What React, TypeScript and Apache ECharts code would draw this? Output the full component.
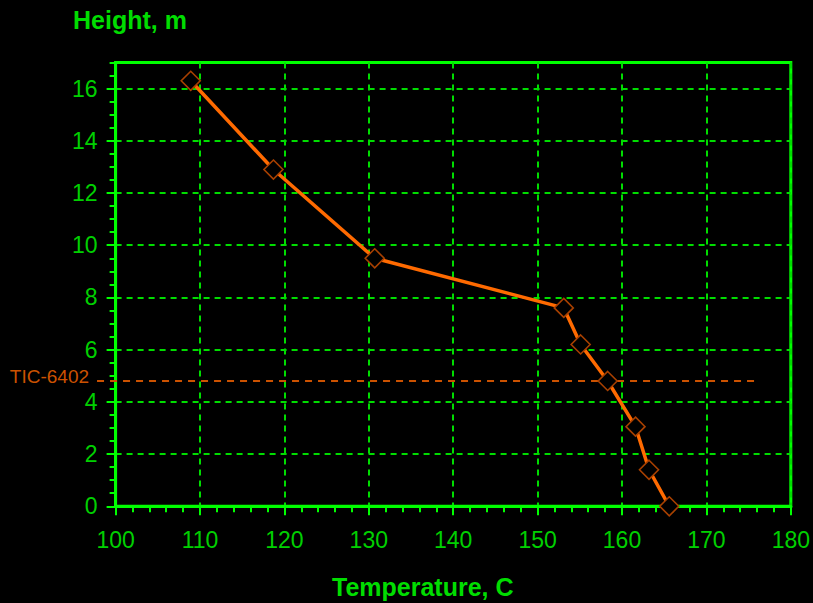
import React, { useEffect, useRef } from "react";
import * as echarts from "echarts";

const temperatures = [108.9, 118.7, 130.7, 153.1, 155.1, 158.3, 161.6, 163.2, 165.6];
const heights = [16.3, 12.9, 9.5, 7.6, 6.2, 4.8, 3.05, 1.4, 0];
const ticLabel = "TIC-6402";
const ticHeight = 4.8;
const ticRange = [97.8, 176];
const yMajorTicks = [0, 2, 4, 6, 8, 10, 12, 14, 16];

const GREEN = "#00ff00";
const GRID_GREEN = "#00dd00";
const LABEL_GREEN = "#00d000";
const TIC_COLOR = "#cc5200";
const FONT = "Liberation Sans, Arial, sans-serif";

export default function App() {
  const ref = useRef<HTMLDivElement>(null);
  useEffect(() => {
    document.body.style.margin = "0";
    document.body.style.background = "#000";
    const chart = echarts.init(ref.current!, null, { renderer: "svg" });
    const titles = [
      {
        type: "text",
        left: 73,
        top: 7,
        style: { text: "Height, m", fill: "#00dd00", font: `bold 25px ${FONT}` },
      },
      {
        type: "text",
        left: 332,
        top: 574,
        style: { text: "Temperature, C", fill: "#00dd00", font: `bold 25px ${FONT}` },
      },
    ];
    const option: any = {
      animation: false,
      backgroundColor: "#000",
      grid: {
        left: 115.6,
        top: 62.5,
        width: 675.5,
        height: 443.8,
        show: true,
        borderColor: GREEN,
        borderWidth: 3,
        backgroundColor: "#000",
      },
      xAxis: {
        type: "value",
        min: 100,
        max: 180,
        interval: 10,
        axisLine: { show: true, lineStyle: { color: GREEN, width: 3 } },
        axisTick: { show: true, inside: false, length: 9, lineStyle: { color: GREEN, width: 2 } },
        minorTick: { show: true, splitNumber: 5, length: 6, lineStyle: { color: GREEN, width: 2 } },
        splitLine: { show: true, lineStyle: { color: GRID_GREEN, width: 2, type: [6, 5] } },
        axisLabel: { color: LABEL_GREEN, fontSize: 23, fontFamily: FONT, margin: 22 },
      },
      yAxis: [
        {
          type: "value",
          min: 0,
          max: 17,
          interval: 2,
          axisLine: { show: true, lineStyle: { color: GREEN, width: 3 } },
          axisTick: { show: true, inside: false, length: 9, customValues: yMajorTicks, lineStyle: { color: GREEN, width: 2 } },
          splitLine: { show: true, lineStyle: { color: GRID_GREEN, width: 2, type: [6, 5] } },
          axisLabel: {
            color: LABEL_GREEN,
            fontSize: 23,
            fontFamily: FONT,
            margin: 18,
            customValues: yMajorTicks,
          },
        },
        {
          type: "value",
          min: 0,
          max: 17,
          interval: 0.5,
          position: "left",
          axisLine: { show: false },
          axisTick: { show: true, inside: false, length: 6, lineStyle: { color: GREEN, width: 2 } },
          splitLine: { show: false },
          axisLabel: { show: false },
        },
      ],
      graphic: titles,
      series: [
        {
          type: "line",
          data: temperatures.map((t, i) => [t, heights[i]]),
          symbol: "diamond",
          symbolSize: 19,
          showAllSymbol: true,
          clip: false,
          lineStyle: { color: "#ff6a00", width: 3.5 },
          itemStyle: { color: "#000", borderColor: "#a84000", borderWidth: 1.6 },
          z: 4,
        },
      ],
    };
    chart.setOption(option);

    const p0 = chart.convertToPixel({ gridIndex: 0 }, [ticRange[0], ticHeight]) as number[];
    const p1 = chart.convertToPixel({ gridIndex: 0 }, [ticRange[1], ticHeight]) as number[];
    chart.setOption({
      graphic: [
        ...titles,
        {
          type: "line",
          z: 3,
          shape: { x1: p0[0], y1: p0[1], x2: p1[0], y2: p1[1] },
          style: { stroke: TIC_COLOR, lineWidth: 2, lineDash: [7, 6] },
        },
        {
          type: "text",
          z: 3,
          x: p0[0] - 8,
          y: p0[1] - 4,
          style: {
            text: ticLabel,
            fill: TIC_COLOR,
            font: `19px ${FONT}`,
            align: "right",
            verticalAlign: "middle",
          },
        },
      ],
    });
    return () => chart.dispose();
  }, []);
  return <div ref={ref} style={{ width: 813, height: 603 }} />;
}
